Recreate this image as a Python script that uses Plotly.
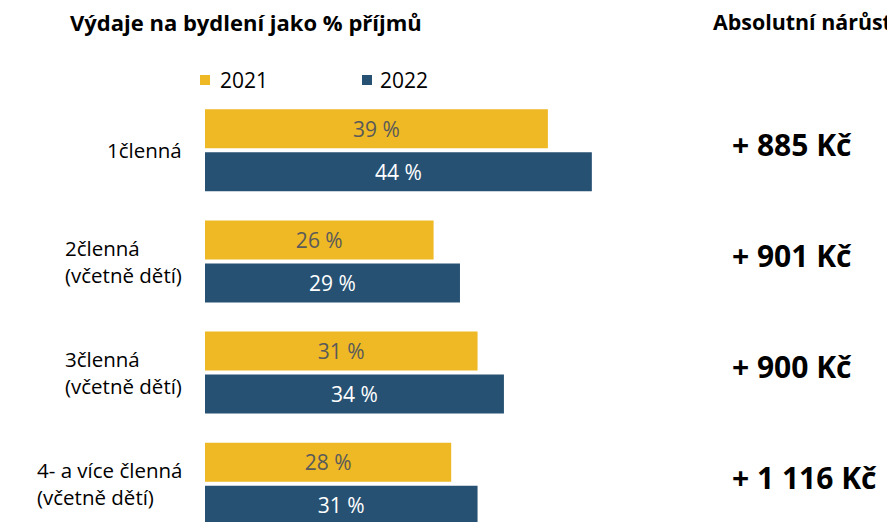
import plotly.graph_objects as go

categories = ["1členná", "2členná<br>(včetně dětí)", "3členná<br>(včetně dětí)",
              "4- a více členná<br>(včetně dětí)"]
years = ["2021", "2022"]
share_2021 = [39, 26, 31, 28]
share_2022 = [44, 29, 34, 31]
abs_growth = ["+ 885 Kč", "+ 901 Kč", "+ 900 Kč", "+ 1 116 Kč"]

YELLOW = "#EEB924"
BLUE = "#265173"
W, H = 895, 522
OFF = 8  # page body margin
ML, MR, MT, MB = 205 - OFF, 0, 95 - OFF, 0
PW, PH = W - ML - MR, H - MT - MB


def px(x):
    return (x - OFF - ML) / PW


def py(y):
    return (H - MB - (y - OFF)) / PH


FONT = "Open Sans, Noto Sans, sans-serif"

fig = go.Figure()
fig.add_trace(go.Bar(
    y=categories, x=share_2021, orientation="h", name=years[0],
    marker=dict(color=YELLOW, line=dict(width=0)),
    text=[f"{v} %" for v in share_2021], textposition="inside",
    insidetextanchor="middle", textfont=dict(color="#5a5a5a", size=21, family=FONT),
    hoverinfo="skip",
))
fig.add_trace(go.Bar(
    y=categories, x=share_2022, orientation="h", name=years[1],
    marker=dict(color=BLUE, line=dict(width=0)),
    text=[f"{v} %" for v in share_2022], textposition="inside",
    insidetextanchor="middle", textfont=dict(color="white", size=21, family=FONT),
    hoverinfo="skip",
))

period = 111.13
c0 = 150.3 - OFF
fig.update_layout(
    width=W, height=H,
    margin=dict(l=ML, r=MR, t=MT, b=MB, pad=0),
    paper_bgcolor="white", plot_bgcolor="white",
    barmode="group", bargap=0.227, bargroupgap=0.093,
    showlegend=False,
    font=dict(family=FONT, color="black"),
    xaxis=dict(range=[0, PW / 8.792], visible=False, fixedrange=True),
    yaxis=dict(range=[(H - c0) / period, -(c0 - MT) / period], showticklabels=False,
               showgrid=False, zeroline=False, showline=False, ticks="", fixedrange=True),
)

ann = []
ann.append(dict(text="<b>Výdaje na bydlení jako % příjmů</b>", x=px(68), y=py(22),
                xref="paper", yref="paper", xanchor="left", yanchor="middle",
                showarrow=False, font=dict(size=22, family=FONT, color="black")))
ann.append(dict(text="<b>Absolutní nárůst</b>", x=px(711), y=py(22),
                xref="paper", yref="paper", xanchor="left", yanchor="middle",
                showarrow=False, font=dict(size=21.4, family=FONT, color="black")))
shapes = []
for (sx, tx, label, col) in [(200, 218, years[0], YELLOW), (362, 378, years[1], BLUE)]:
    shapes.append(dict(type="rect", xref="paper", yref="paper",
                       x0=px(sx), x1=px(sx + 10), y0=py(85), y1=py(75),
                       fillcolor=col, line=dict(width=0)))
    ann.append(dict(text=label, x=px(tx), y=py(80), xref="paper", yref="paper",
                    xanchor="left", yanchor="middle", showarrow=False,
                    font=dict(size=21, family=FONT, color="black")))
for cat, g in zip(categories, abs_growth):
    ann.append(dict(text=cat, x=px(184), y=cat, xref="paper", yref="y",
                    xanchor="right", yanchor="middle", align="left", showarrow=False,
                    font=dict(size=20.5, family=FONT, color="black")))
    ann.append(dict(text=f"<b>{g}</b>", x=px(730), y=cat, xref="paper", yref="y",
                    xanchor="left", yanchor="middle", yshift=6, showarrow=False,
                    font=dict(size=30, family=FONT, color="black")))

fig.update_layout(annotations=ann, shapes=shapes)
fig.write_html("out.html")
